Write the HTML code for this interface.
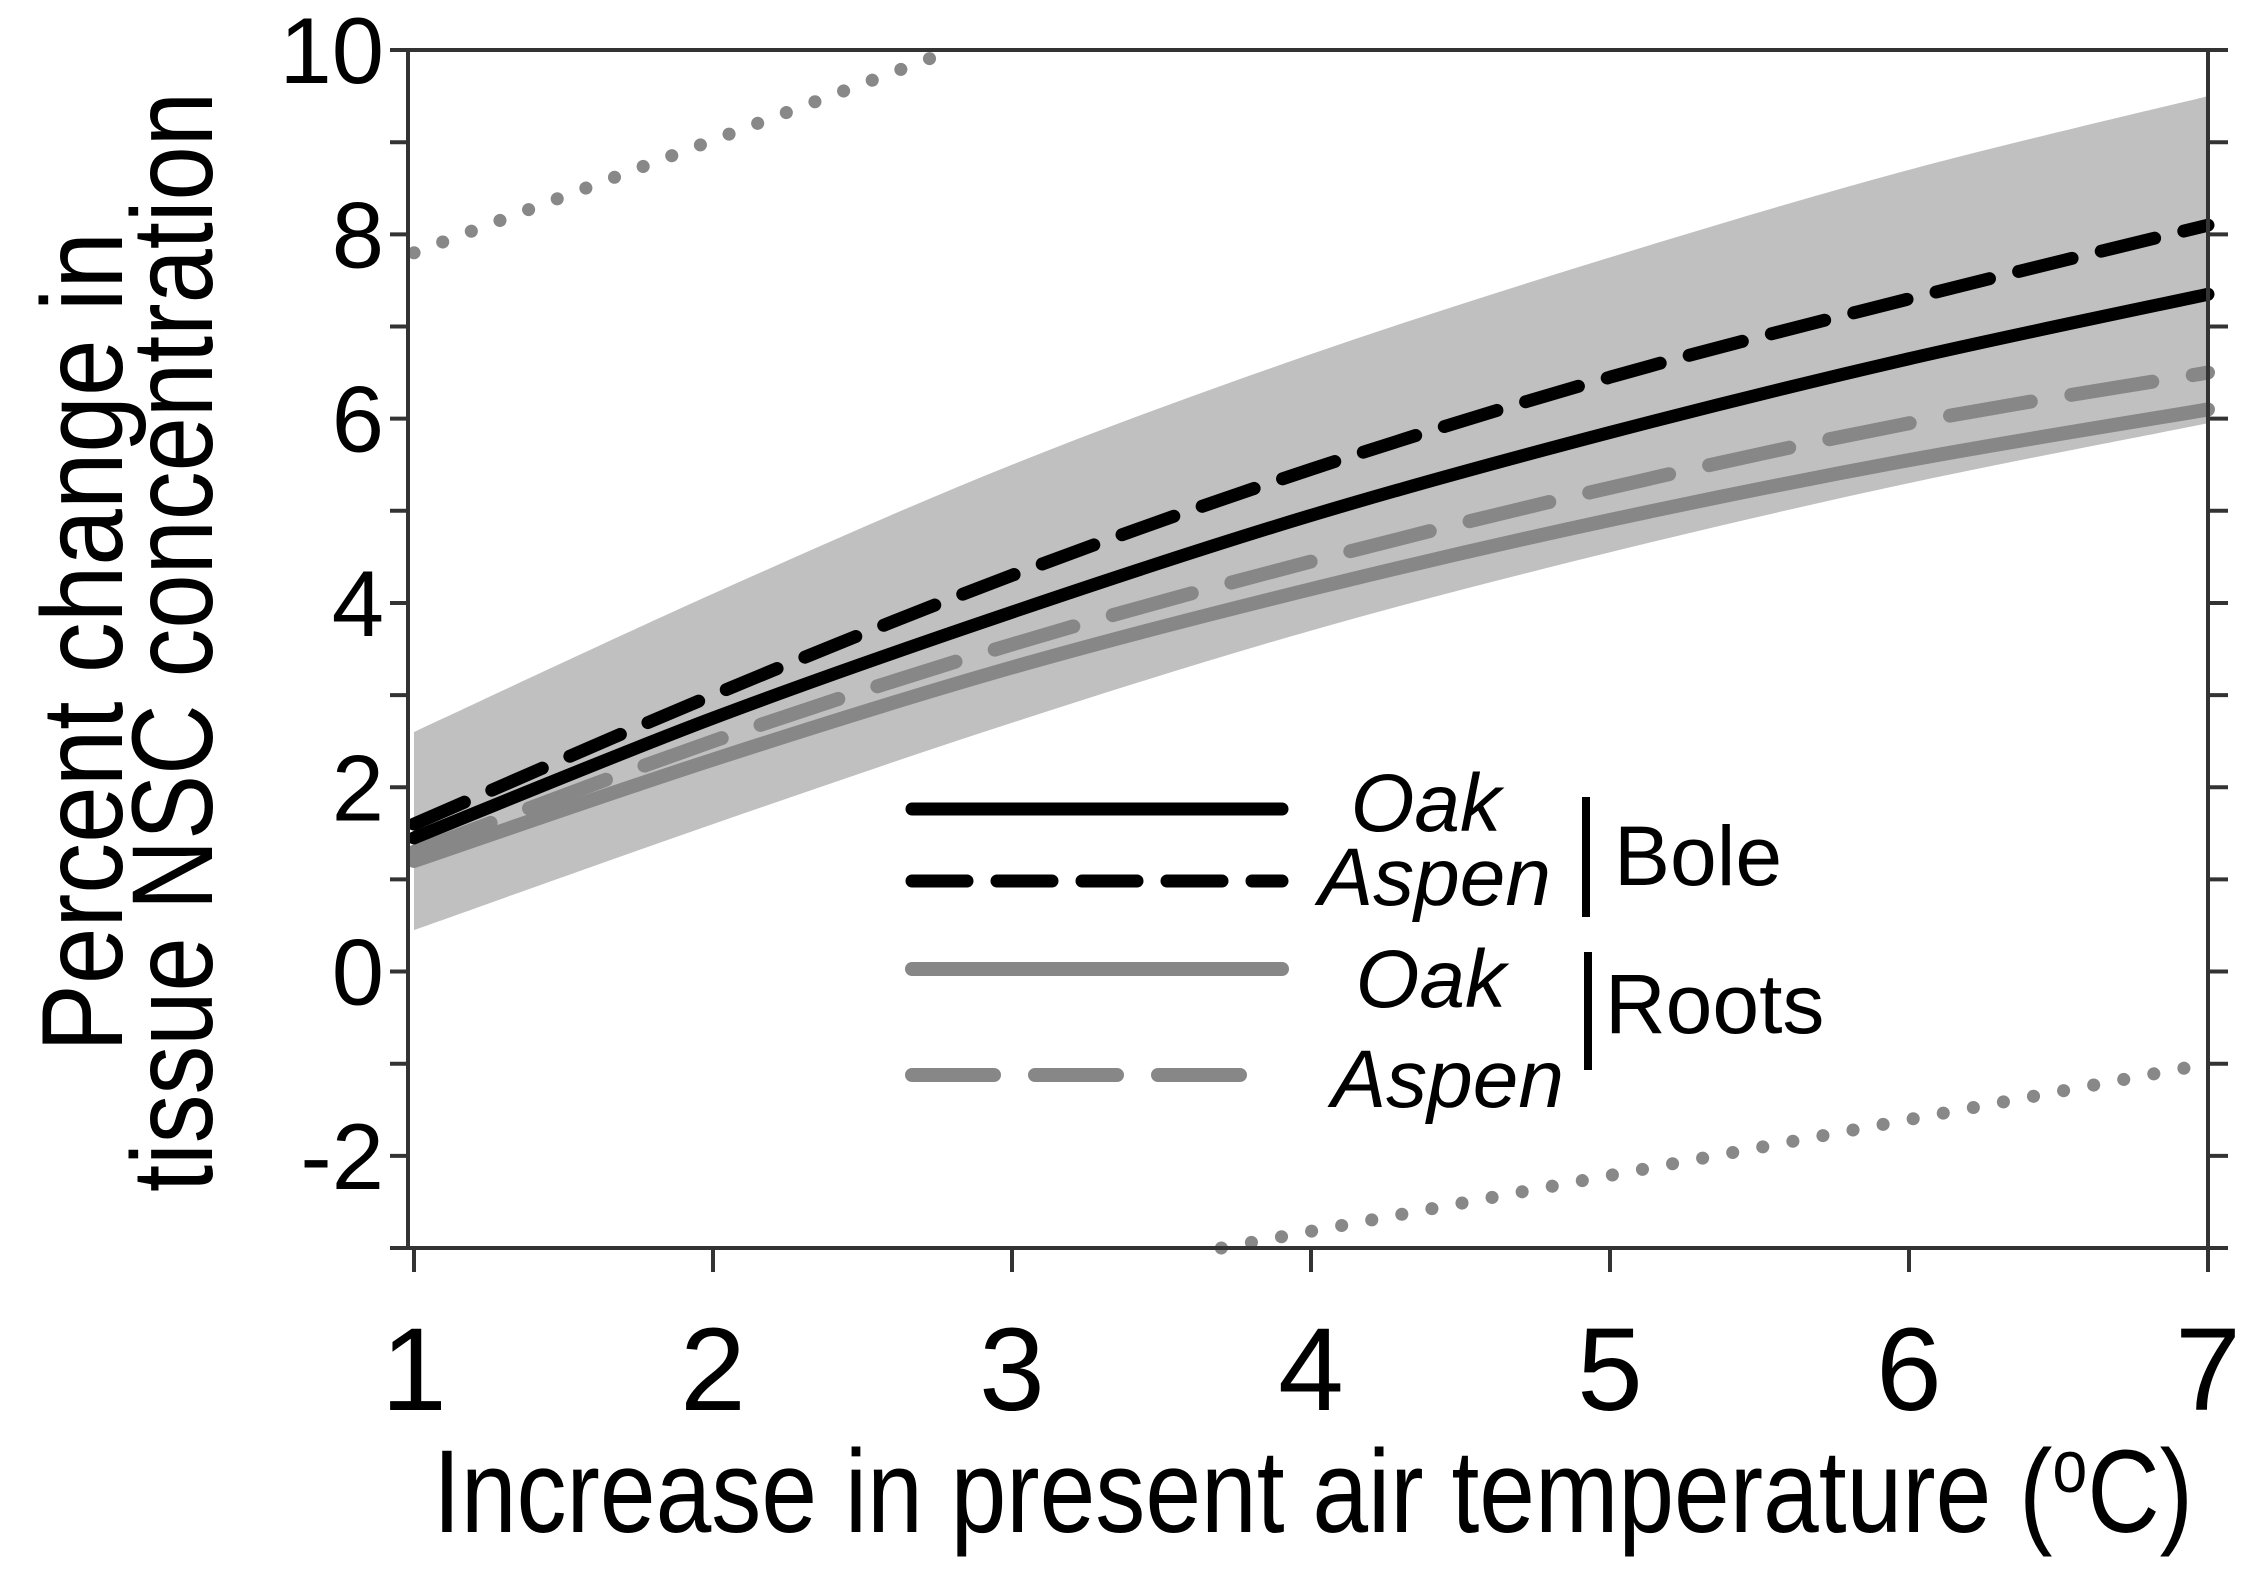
<!DOCTYPE html>
<html><head><meta charset="utf-8"><style>
html,body{margin:0;padding:0;background:#fff;}
svg{display:block;}
text{font-family:"Liberation Sans",Arial,sans-serif;fill:#000;}
</style></head><body>
<svg id="chart" width="2247" height="1574" viewBox="0 0 2247 1574" xmlns="http://www.w3.org/2000/svg">
<g id="band"></g>
<g id="dots"></g>
<g id="lines"></g>
<g id="axes"></g>
<g id="legend">
  <line x1="912" y1="809" x2="1282" y2="809" stroke="#000" stroke-width="13" stroke-linecap="round"/>
  <line x1="912" y1="881" x2="1282" y2="881" stroke="#000" stroke-width="13" stroke-linecap="round" stroke-dasharray="55 30"/>
  <line x1="912" y1="969" x2="1282" y2="969" stroke="#878787" stroke-width="14" stroke-linecap="round"/>
  <line x1="912" y1="1075" x2="1240" y2="1075" stroke="#878787" stroke-width="14" stroke-linecap="round" stroke-dasharray="82 41"/>
  <text x="1501" y="831" font-size="82" font-style="italic" text-anchor="end">Oak</text>
  <text x="1551" y="905" font-size="82" font-style="italic" text-anchor="end">Aspen</text>
  <text x="1506" y="1007" font-size="82" font-style="italic" text-anchor="end">Oak</text>
  <text x="1564" y="1107" font-size="82" font-style="italic" text-anchor="end">Aspen</text>
  <line x1="1586" y1="797" x2="1586" y2="917" stroke="#000" stroke-width="8"/>
  <line x1="1588" y1="952" x2="1588" y2="1070" stroke="#000" stroke-width="8"/>
  <text x="1614" y="885" font-size="84">Bole</text>
  <text x="1605" y="1033" font-size="84">Roots</text>
</g>
<text x="433" y="1532" font-size="118" textLength="1760" lengthAdjust="spacingAndGlyphs">Increase in present air temperature (<tspan font-size="74" dy="-40">o</tspan><tspan dy="40">C)</tspan></text>
<text transform="translate(122,642) rotate(-90)" font-size="115" text-anchor="middle" textLength="820" lengthAdjust="spacingAndGlyphs">Percent change in</text>
<text transform="translate(212,642) rotate(-90)" font-size="115" text-anchor="middle" textLength="1100" lengthAdjust="spacingAndGlyphs">tissue NSC concentration</text>
</svg>
<script>
const xTicks = [1,2,3,4,5,6,7];
const yTickLabels = [-2,0,2,4,6,8,10];
const temps = [1,2,3,4,5,6,7];
const bandUpper = [2.6,4.1,5.5,6.7,7.75,8.7,9.5];
const bandLower = [0.45,1.6,2.7,3.7,4.55,5.3,5.95];
const boleOak = [1.45,2.75,3.9,4.95,5.85,6.65,7.35];
const boleAspen = [1.6,3.0,4.3,5.45,6.45,7.3,8.1];
const rootsOak = [1.2,2.3,3.3,4.15,4.9,5.55,6.1];
const rootsAspen = [1.3,2.5,3.55,4.45,5.25,5.95,6.5];
const upperPI_x = [1,2.8];
const upperPI_y = [7.8,10];
const lowerPI_x = [3.7,7];
const lowerPI_y = [-3,-1.0];

const NS='http://www.w3.org/2000/svg';
const X0=414, XU=299, Y0=1248, YU=92.15, YMIN=-3;
function sx(v){return X0+(v-1)*XU;}
function sy(v){return Y0-(v-YMIN)*YU;}
function mk(tag,attrs,parent){const e=document.createElementNS(NS,tag);for(const k in attrs)e.setAttribute(k,attrs[k]);parent.appendChild(e);return e;}
function smooth(xs,ys){
  const p=xs.map((x,i)=>[sx(x),sy(ys[i])]);
  let d='M'+p[0][0]+','+p[0][1];
  for(let i=0;i<p.length-1;i++){
    const p0=p[i-1]||p[i],p1=p[i],p2=p[i+1],p3=p[i+2]||p2;
    const c1=[p1[0]+(p2[0]-p0[0])/6,p1[1]+(p2[1]-p0[1])/6];
    const c2=[p2[0]-(p3[0]-p1[0])/6,p2[1]-(p3[1]-p1[1])/6];
    d+=' C'+c1[0]+','+c1[1]+' '+c2[0]+','+c2[1]+' '+p2[0]+','+p2[1];
  }
  return d;
}
const bandG=document.getElementById('band');
let up=smooth(temps,bandUpper);
let lowRev=smooth(temps.slice().reverse(),bandLower.slice().reverse());
const bp=mk('path',{d:up+' L'+lowRev.slice(1)+' Z',fill:'#c0c0c0',stroke:'none'},bandG);


const dotG=document.getElementById('dots');
const d1=mk('line',{x1:sx(upperPI_x[0]),y1:sy(upperPI_y[0]),x2:sx(upperPI_x[1]),y2:sy(upperPI_y[1]),stroke:'#888','stroke-width':13,'stroke-linecap':'round','stroke-dasharray':'0.1 30.5'},dotG);


const d2=mk('line',{x1:sx(lowerPI_x[0]),y1:sy(lowerPI_y[0]),x2:sx(lowerPI_x[1]),y2:sy(lowerPI_y[1]),stroke:'#888','stroke-width':13,'stroke-linecap':'round','stroke-dasharray':'0.1 30.5'},dotG);


const lg=document.getElementById('lines');
const l1=mk('path',{d:smooth(temps,rootsOak),fill:'none',stroke:'#878787','stroke-width':14,'stroke-linecap':'round'},lg);


const l2=mk('path',{d:smooth(temps,rootsAspen),fill:'none',stroke:'#878787','stroke-width':14,'stroke-linecap':'round','stroke-dasharray':'82 41'},lg);


const l3=mk('path',{d:smooth(temps,boleOak),fill:'none',stroke:'#000','stroke-width':13,'stroke-linecap':'round'},lg);


const l4=mk('path',{d:smooth(temps,boleAspen),fill:'none',stroke:'#000','stroke-width':13,'stroke-linecap':'round','stroke-dasharray':'55 30'},lg);


const ax=document.getElementById('axes');
const sty={stroke:'#333','stroke-width':4,fill:'none'};
const frame=mk('path',Object.assign({d:'M408,'+sy(10)+' L408,'+Y0+' L'+sx(7)+','+Y0+' L'+sx(7)+','+sy(10)+' Z'},sty),ax);


for(let v=YMIN; v<=10; v++){
  const t1=mk('line',Object.assign({x1:390,y1:sy(v),x2:408,y2:sy(v)},sty),ax);
  
  
  const t2=mk('line',Object.assign({x1:sx(7),y1:sy(v),x2:sx(7)+20,y2:sy(v)},sty),ax);
  
  
}
yTickLabels.forEach(v=>{
  const t=mk('text',{x:384,y:sy(v)+33,'font-size':94,'text-anchor':'end'},ax);
  t.textContent=String(v);
  
  
});
xTicks.forEach(v=>{
  const t=mk('line',Object.assign({x1:sx(v),y1:Y0,x2:sx(v),y2:Y0+24},sty),ax);
  
  
  const l=mk('text',{x:sx(v),y:1410,'font-size':118,'text-anchor':'middle'},ax);
  l.textContent=String(v);
  
  
});
</script>
</body></html>
